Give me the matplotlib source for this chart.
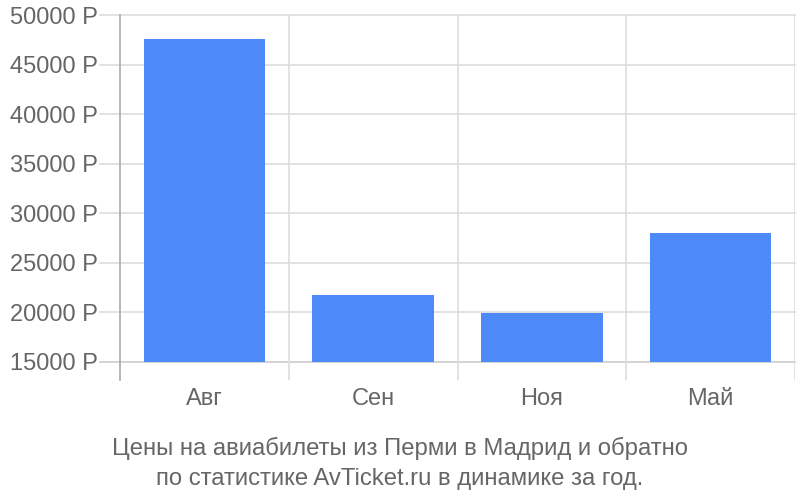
import matplotlib
matplotlib.use("Agg")
import matplotlib.pyplot as plt
import numpy as np

categories = ["Авг", "Сен", "Ноя", "Май"]
prices = [47600, 21800, 19950, 28030]
yticks = [15000, 20000, 25000, 30000, 35000, 40000, 45000, 50000]
ytick_labels = [f"{v} Р" for v in yticks]
caption_lines = ["Цены на авиабилеты из Перми в Мадрид и обратно",
                 "по статистике AvTicket.ru в динамике за год."]

plt.rcParams['font.family'] = ['Liberation Sans', 'DejaVu Sans']

fig = plt.figure(figsize=(8, 5), dpi=100)
ax = fig.add_axes([120/800, 1-380/500, 675/800, 365/500])

base = 15000
x = np.arange(len(categories))
ax.bar(x, [p - base for p in prices], bottom=base, width=0.72, color="#4d89f9", zorder=3)

ymin = base - 18/347*35000
ax.set_ylim(ymin, 50000)
ax.set_xlim(-0.5, len(categories) - 0.5)

# horizontal grid lines extending left as ticks
for v in yticks:
    ax.plot([-0.5 - 20/168.75, len(categories) - 0.5], [v, v], color="#cccccc" if v == base else "#dddddd",
            lw=1.2, clip_on=False, zorder=1)
# vertical grid lines at category boundaries
for b in np.arange(0.5, len(categories) - 0.5):
    ax.axvline(b, color="#dddddd", lw=1.2, zorder=1)
ax.axvline(len(categories) - 0.5, color="#dddddd", lw=1.2, zorder=1)

for s in ["top", "right", "bottom"]:
    ax.spines[s].set_visible(False)
ax.spines["left"].set_color("#aaaaaa")
ax.spines["left"].set_linewidth(1.2)

ax.set_yticks(yticks)
ax.set_yticklabels(ytick_labels)
ax.tick_params(axis="y", length=0, pad=16, labelsize=17, labelcolor="#666666")
ax.set_xticks(x)
ax.set_xticklabels(categories)
ax.tick_params(axis="x", length=0, pad=6, labelsize=17, labelcolor="#666666")

for i, line in enumerate(caption_lines):
    fig.text(0.5, 1 - (455 + 30 * i) / 500, line, ha="center", va="baseline", fontsize=17.2,
             color="#666666")

fig.savefig("out.png", dpi=100)
